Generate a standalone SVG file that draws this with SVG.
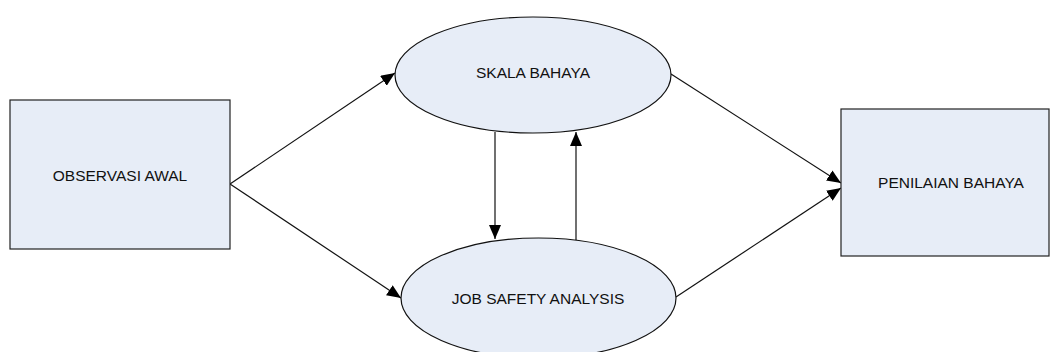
<svg xmlns="http://www.w3.org/2000/svg" width="1050" height="352" viewBox="0 0 1050 352">
<style>
.box{fill:#E7EDF7;stroke:#222;stroke-width:1.2}
.ell{fill:#E7EDF7;stroke:#111;stroke-width:1.2}
.lbl{font-family:"Liberation Sans",Arial,sans-serif;font-size:15.5px;fill:#111;text-anchor:middle}
.con{stroke:#111;stroke-width:1.2;fill:none;marker-end:url(#ah)}
</style>
<defs>
<marker id="ah" markerUnits="userSpaceOnUse" markerWidth="14" markerHeight="12" viewBox="0 0 14 12" refX="14" refY="6" orient="auto">
<path d="M0,0 L14,6 L0,12 Z" fill="#000"/>
</marker>
</defs>
<rect width="1050" height="352" fill="#fff"/>
<g id="connectors">
<line class="con" x1="230" y1="184" x2="395" y2="73"/>
<line class="con" x1="230" y1="184" x2="401" y2="298"/>
<line class="con" x1="671" y1="74" x2="841" y2="183"/>
<line class="con" x1="676" y1="297" x2="841" y2="188"/>
<line class="con" x1="495" y1="132" x2="495" y2="239"/>
<line class="con" x1="576" y1="240" x2="576" y2="132"/>
</g>
<g id="observasi">
<rect class="box" x="10" y="100" width="220" height="149"/>
<text class="lbl" x="120" y="181">OBSERVASI AWAL</text>
</g>
<g id="skala">
<ellipse class="ell" cx="533" cy="75" rx="138" ry="58"/>
<text class="lbl" x="533" y="78">SKALA BAHAYA</text>
</g>
<g id="jsa">
<ellipse class="ell" cx="538.5" cy="298" rx="137.5" ry="60"/>
<text class="lbl" x="538" y="304">JOB SAFETY ANALYSIS</text>
</g>
<g id="penilaian">
<rect class="box" x="841" y="109" width="208" height="147"/>
<text class="lbl" x="951" y="188">PENILAIAN BAHAYA</text>
</g>
</svg>
